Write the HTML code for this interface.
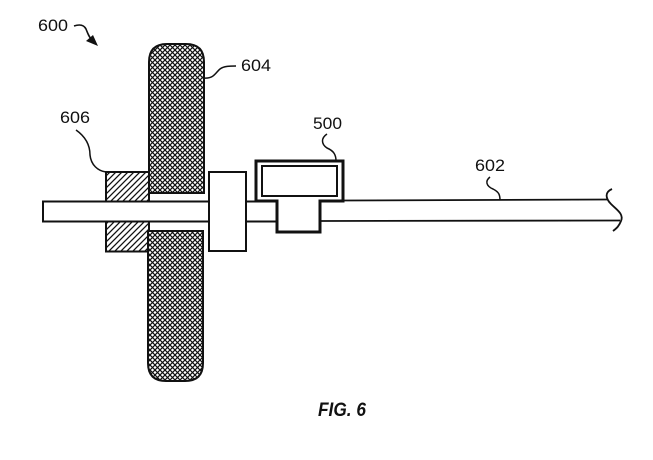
<!DOCTYPE html>
<html><head><meta charset="utf-8"><style>
html,body{margin:0;padding:0;background:#fff;}
svg{display:block;}
text{font-family:"Liberation Sans",Arial,sans-serif;fill:#111;}
</style></head><body>
<svg width="653" height="460" viewBox="0 0 653 460" xmlns="http://www.w3.org/2000/svg">
<defs>
<pattern id="xh" width="5" height="5" patternUnits="userSpaceOnUse">
<rect width="5" height="5" fill="#fff"/>
<path d="M-1,1 L1,-1 M0,5 L5,0 M4,6 L6,4" stroke="#111" stroke-width="1.2"/>
<path d="M-1,4 L1,6 M0,0 L5,5 M4,-1 L6,1" stroke="#111" stroke-width="1.2"/>
</pattern>
<pattern id="hatch" width="6" height="6" patternUnits="userSpaceOnUse">
<rect width="6" height="6" fill="#fff"/>
<path d="M-1,1 L1,-1 M0,6 L6,0 M5,7 L7,5" stroke="#111" stroke-width="1.3"/>
</pattern>
</defs>

<!-- 600 label + arrow -->
<text x="38" y="31" font-size="17" textLength="30" lengthAdjust="spacingAndGlyphs">600</text>
<path d="M74,26 C80,24 84,25 86,29 C88,34 89,37 92,40" fill="none" stroke="#111" stroke-width="1.6"/>
<polygon points="98,46 86,41 93,35" fill="#111"/>

<!-- shaft -->
<rect x="43" y="201.5" width="234" height="20" fill="#fff" stroke="#111" stroke-width="2"/>

<!-- hatched block 606 -->
<rect x="106" y="172" width="43" height="29.5" fill="url(#hatch)" stroke="#111" stroke-width="2"/>
<rect x="106" y="221.5" width="43" height="30" fill="url(#hatch)" stroke="#111" stroke-width="2"/>

<!-- wheel 604 -->
<path d="M149,193 L149,62 Q149,44 167,44 L186,44 Q204,44 204,62 L204,193 Z" fill="url(#xh)" stroke="#111" stroke-width="2"/>
<path d="M148,231 L148,363 Q148,381 166,381 L185,381 Q203,381 203,363 L203,231 Z" fill="url(#xh)" stroke="#111" stroke-width="2"/>

<!-- hub -->
<rect x="209" y="172" width="37" height="79" fill="#fff" stroke="#111" stroke-width="2"/>

<!-- shaft right part -->
<path d="M343,200.5 L608,199.5" fill="none" stroke="#111" stroke-width="1.8"/>
<path d="M320,221 L620,220.5" fill="none" stroke="#111" stroke-width="1.8"/>
<path d="M612,189 C605,192 605,198 611,204 C617,210 624,214 621,221 C619,226 617,228 613,231" fill="none" stroke="#111" stroke-width="1.8"/>

<!-- 500 block -->
<path d="M256,161 L343,161 L343,201 L320,201 L320,232 L277,232 L277,201 L256,201 Z" fill="#fff" stroke="#111" stroke-width="3"/>
<rect x="262" y="166" width="75" height="30" fill="#fff" stroke="#111" stroke-width="2"/>

<!-- labels & leaders -->
<text x="241" y="71" font-size="16.5" textLength="30" lengthAdjust="spacingAndGlyphs">604</text>
<path d="M204,78 C214,79 216,72 220,69 C224,66 230,66 236,66" fill="none" stroke="#111" stroke-width="1.5"/>

<text x="60" y="123" font-size="16.5" textLength="30" lengthAdjust="spacingAndGlyphs">606</text>
<path d="M76,130 C86,137 90,145 90,155 C91,165 98,171 106,172" fill="none" stroke="#111" stroke-width="1.5"/>

<text x="313" y="129" font-size="16.5" textLength="29" lengthAdjust="spacingAndGlyphs">500</text>
<path d="M327,134 C321,138 321,144 327,148 C334,151 336,155 336,161" fill="none" stroke="#111" stroke-width="1.5"/>

<text x="475" y="171" font-size="16.5" textLength="30" lengthAdjust="spacingAndGlyphs">602</text>
<path d="M490,177 C485,181 486,186 493,189 C499,192 500,195 500,200" fill="none" stroke="#111" stroke-width="1.5"/>

<text x="318" y="416" font-size="19" font-weight="bold" font-style="italic" textLength="48" lengthAdjust="spacingAndGlyphs">FIG. 6</text>
</svg>
</body></html>
